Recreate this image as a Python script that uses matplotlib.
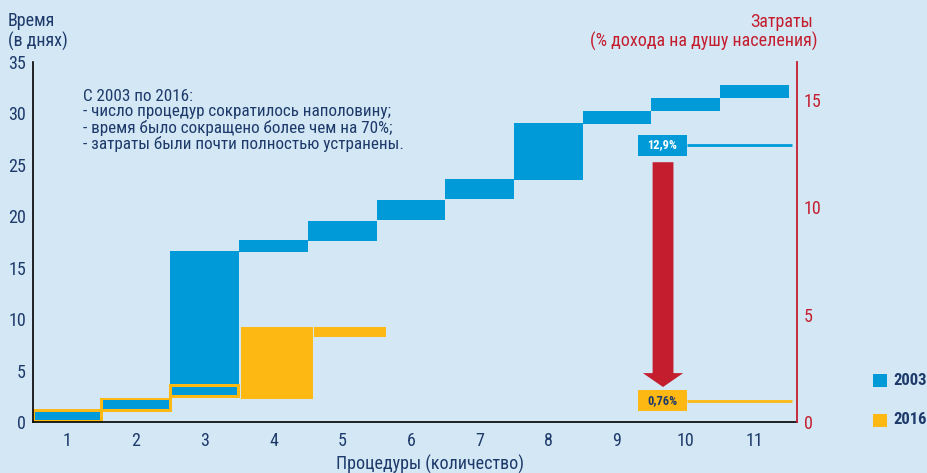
import matplotlib
matplotlib.use('Agg')
import matplotlib.pyplot as plt
from matplotlib.patches import Rectangle

# ---------------- data ----------------
procedures = list(range(1, 12))
tick_labels = [str(i) for i in procedures]
left_ticks = [0, 5, 10, 15, 20, 25, 30, 35]
right_ticks = [0, 5, 10, 15]

# 2003: time steps (days) per procedure column
blue_col = [1, 2, 3, 3, 4, 5, 6, 7, 8, 9, 10, 11]
blue_start = [0.22, 1.23, 2.6, 3.69, 16.5, 17.6, 19.63, 21.67, 23.5, 28.96, 30.2, 31.5]
blue_end = [1.0, 2.14, 3.43, 16.6, 17.7, 19.53, 21.57, 23.6, 29.06, 30.2, 31.5, 32.75]
blue_inset = [True, True, True, False, False, False, False, False, False, False, False, False]

# 2016: time steps (days)
orange_col = [1, 2, 3, 4, 5]
orange_start = [0.0, 1.0, 2.36, 2.24, 8.26]
orange_end = [1.26, 2.36, 3.69, 9.23, 9.23]

# costs (% of income per capita)
cost_levels = [12.9, 0.98]
cost_labels = ['12,9%', '0,76%']
cost_years = ['2003', '2016']
arrow_from, arrow_to = 12.1, 1.63

# ---------------- style ----------------
BG = '#d3e7f5'
BLUE = '#009ad9'
ORANGE = '#fdb813'
RED = '#c41e2e'
NAVY = '#1d3a6a'
FONT = ['Roboto Condensed', 'PT Sans Narrow', 'DejaVu Sans']
plt.rcParams['font.family'] = FONT

fig = plt.figure(figsize=(9.28, 4.73), dpi=100, facecolor=BG)
ax = fig.add_axes([33/928, 1-422/473, (797-33)/928, (422-62)/473])
ax.set_facecolor(BG)
ax.set_xlim(0.5, 11.62)
ax.set_ylim(0, 35)

# orange 2016 bars (drawn first, blue inset on top)
for c, s, e in zip(orange_col, orange_start, orange_end):
    if c <= 3:
        ax.bar(c, e - s, bottom=s, width=1.04, color=ORANGE, linewidth=0, zorder=2)
    else:
        shift = 0.05 if c == 4 else 0.12
        ax.bar(c + shift, e - s, bottom=s, width=1.05, color=ORANGE, linewidth=0, zorder=2)

for c, s, e, ins in zip(blue_col, blue_start, blue_end, blue_inset):
    w = 0.95 if ins else 1.0
    ax.bar(c, e - s, bottom=s, width=w, color=BLUE, linewidth=0, zorder=3)

# axes styling
for sp in ['top', 'right']:
    ax.spines[sp].set_visible(False)
ax.spines['left'].set_color('black')
ax.spines['bottom'].set_color('black')
ax.spines['left'].set_linewidth(1.2)
ax.spines['bottom'].set_linewidth(1.2)
ax.set_xticks(procedures)
ax.set_xticklabels(tick_labels)
ax.set_yticks(left_ticks)
ax.tick_params(axis='both', length=0, labelsize=13, colors=NAVY)
ax.tick_params(axis='x', pad=7)
ax.tick_params(axis='y', pad=5)
fig.text(430/928, 1-470/473, 'Процедуры (количество)', ha='center', va='baseline',
         fontsize=13, color=NAVY)

# right axis (costs)
ax2 = ax.twinx()
ax2.set_ylim(0, 35 * 10.286 / 21.47)
for sp in ['top', 'left', 'bottom']:
    ax2.spines[sp].set_visible(False)
ax2.spines['right'].set_color(RED)
ax2.spines['right'].set_linewidth(1.3)
ax2.set_yticks(right_ticks)
ax2.tick_params(axis='y', length=0, labelsize=13, colors=RED, pad=5)

# cost lines with label boxes
line_colors = [BLUE, ORANGE]
text_colors = ['white', NAVY]
box_w, box_h, box_x = 0.713, 0.98, 9.66
for lvl, lab, lc, tc in zip(cost_levels, cost_labels, line_colors, text_colors):
    ax2.plot([box_x + box_w / 2, 11.55], [lvl, lvl], color=lc, lw=2, zorder=3,
             solid_capstyle='butt')
    ax2.add_patch(Rectangle((box_x - box_w / 2, lvl - box_h / 2), box_w, box_h,
                            fc=lc, ec='none', zorder=5))
    ax2.text(box_x, lvl, lab, ha='center', va='center', fontsize=9, fontweight='bold',
             color=tc, zorder=6)

# red arrow
ax2.annotate('', xy=(9.67, arrow_to), xytext=(9.67, arrow_from),
             arrowprops=dict(arrowstyle='simple,head_length=10,head_width=29,tail_width=15',
                             mutation_scale=1, fc=RED, ec='none', shrinkA=0, shrinkB=0),
             zorder=4)

# annotation text
ax.text(83/928, 1-89/473, 'С 2003 по 2016:\n- число процедур сократилось наполовину;\n'
        '- время было сокращено более чем на 70%;\n- затраты были почти полностью устранены.',
        transform=fig.transFigure, ha='left', va='top', fontsize=12.3, color=NAVY,
        linespacing=1.03)

# axis titles
fig.text(8/928, 1-12/473, 'Время\n(в днях)', ha='left', va='top', fontsize=13,
         color=NAVY, linespacing=1.1)
fig.text(813/928, 1-22/473, 'Затраты', ha='right', va='center', fontsize=13, color=RED)
fig.text(818/928, 1-41/473, '(% дохода на душу населения)', ha='right', va='center',
         fontsize=13, color=RED)

# legend
for yc, col, yr in [(380.5, BLUE, cost_years[0]), (420, ORANGE, cost_years[1])]:
    fig.patches.append(Rectangle((873/928, 1-(yc+6.5)/473), 14/928, 13/473,
                                 transform=fig.transFigure, fc=col, ec='none'))
    fig.text(893/928, 1-yc/473, yr, ha='left', va='center', fontsize=12,
             fontweight='bold', color=NAVY)

fig.savefig('out.png', dpi=100, facecolor=BG)
